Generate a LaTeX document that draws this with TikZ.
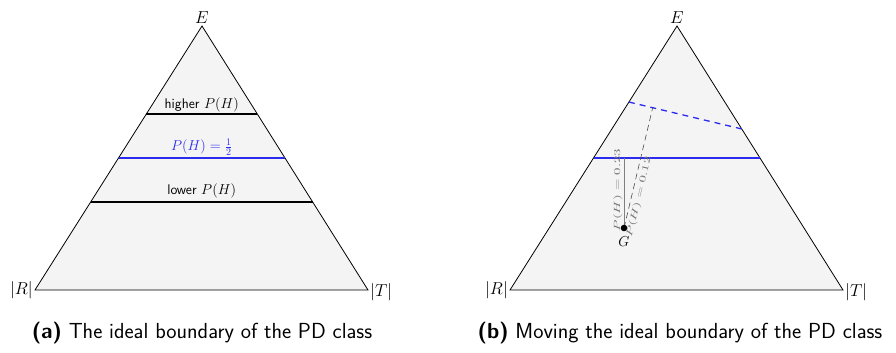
\documentclass[tikz,border=0pt]{standalone}
\usepackage{fontspec}
\usetikzlibrary{calc}
\definecolor{trifill}{HTML}{F4F4F4}
\definecolor{pblue}{HTML}{2B2BF0}
\tikzset{
  tri/.style={draw=black, fill=trifill, line width=0.8pt, line join=miter},
  bnd/.style={draw=black, line width=1.1pt},
  blueline/.style={draw=pblue, line width=1.4pt},
  vlabel/.style={font=\fontsize{17}{19}\selectfont, inner sep=2pt},
  inlabel/.style={font=\fontsize{14}{16}\selectfont, inner sep=1.5pt},
  sflabel/.style={font=\sffamily\fontsize{14}{16}\selectfont, inner sep=1.5pt},
  caption/.style={font=\sffamily\fontsize{21.8}{24}\selectfont},
  tiny/.style={font=\fontsize{9}{10}\selectfont, text=black!55, inner sep=1.2pt}
}
\newcommand{\stretchtxt}[1]{\scalebox{1.6}[1]{#1}}
\begin{document}
\begin{tikzpicture}[x=1pt,y=-1pt]
\useasboundingbox (0,0) rectangle (896,353);
% ---------- (a)
\coordinate (Ea) at (202,26);
\coordinate (Ra) at (35,290);
\coordinate (Ta) at (368,290);
\draw[tri] (Ea) -- (Ra) -- (Ta) -- cycle;
\node[vlabel, anchor=south] (lEa) at (Ea) {$E$};
\node[vlabel, anchor=east] (lRa) at (Ra) {$|R|$};
\node[vlabel, anchor=west, yshift=-2pt] (lTa) at (Ta) {$|T|$};
\coordinate (h1) at ($(Ea)!1/3!(Ra)$);
\coordinate (h2) at ($(Ea)!1/3!(Ta)$);
\coordinate (m1) at ($(Ea)!1/2!(Ra)$);
\coordinate (m2) at ($(Ea)!1/2!(Ta)$);
\coordinate (l1) at ($(Ea)!2/3!(Ra)$);
\coordinate (l2) at ($(Ea)!2/3!(Ta)$);
\draw[bnd] (h1) -- (h2) node[midway, above, sflabel] (th) {higher $P(H)$};
\draw[blueline] (m1) -- (m2) node[midway, above, inlabel, text=pblue] (tm) {$P(H)=\frac{1}{2}$};
\draw[bnd] (l1) -- (l2) node[midway, above, sflabel, yshift=2pt] (tl) {lower $P(H)$};
\node[caption] (capa) at (202,333) {\textbf{(a)} The ideal boundary of the PD class};
% ---------- (b)
\coordinate (Eb) at (677,26);
\coordinate (Rb) at (510,290);
\coordinate (Tb) at (843,290);
\draw[tri] (Eb) -- (Rb) -- (Tb) -- cycle;
\node[vlabel, anchor=south] (lEb) at (Eb) {$E$};
\node[vlabel, anchor=east] (lRb) at (Rb) {$|R|$};
\node[vlabel, anchor=west, yshift=-2pt] (lTb) at (Tb) {$|T|$};
\coordinate (mb1) at ($(Eb)!1/2!(Rb)$);
\coordinate (mb2) at ($(Eb)!1/2!(Tb)$);
\coordinate (d1) at ($(Eb)!0.288!(Rb)$);
\coordinate (d2) at ($(Eb)!0.39!(Tb)$);
\draw[blueline] (mb1) -- (mb2);
\draw[draw=pblue, line width=1.3pt, dash pattern=on 6pt off 5pt] (d1) -- (d2);
\coordinate (G) at (624,228);
\coordinate (Gup) at (624,158);
\coordinate (Gft) at ($(d1)!(G)!(d2)$);
\draw[draw=gray, line width=0.9pt] (G) -- (Gup) node[pos=0.54, sloped, above, tiny] (t23) {\stretchtxt{$P(H)=0.23$}};
\draw[draw=black!70, line width=0.6pt, dash pattern=on 6pt off 4pt] (G) -- (Gft) node[pos=0.27, sloped, below=1.5pt, tiny] (t12) {\stretchtxt{$P(H)=0.12$}};
\fill (G) circle (3.3pt);
\node[font=\fontsize{15}{17}\selectfont, anchor=north, inner sep=1pt] (lG) at ($(G)+(0,7.5)$) {$G$};
\node[caption] (capb) at (680,333) {\textbf{(b)} Moving the ideal boundary of the PD class};
\end{tikzpicture}
\end{document}
